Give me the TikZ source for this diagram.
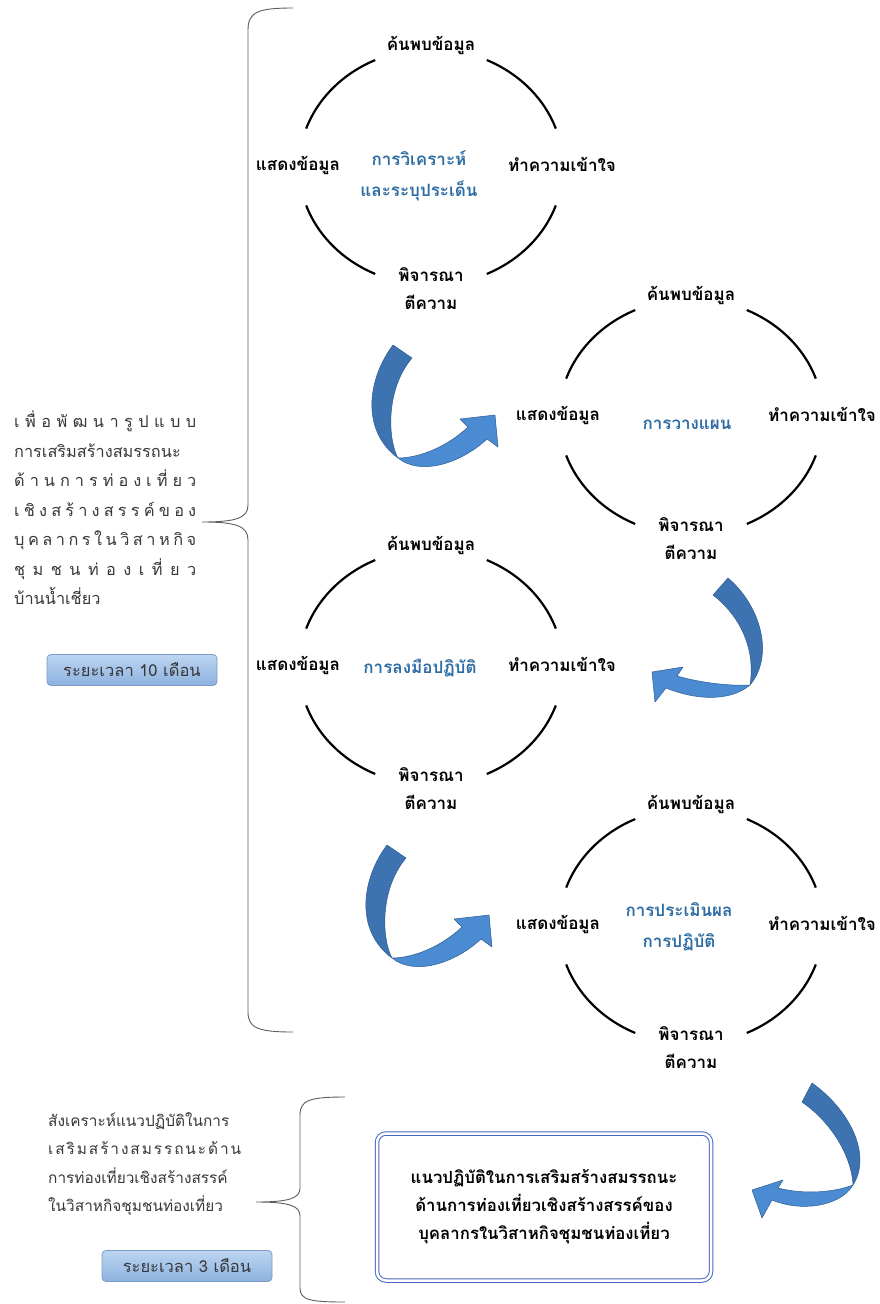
\documentclass[tikz,border=0pt]{standalone}
\usepackage{fontspec}
\setmainfont[Script=Thai]{Loma}
\usetikzlibrary{calc}

\definecolor{hubblue}{HTML}{2E6DA4}
\definecolor{ribbondark}{HTML}{3C73B0}
\definecolor{ribbonlight}{HTML}{4A8BD2}
\definecolor{ribbonedge}{HTML}{2D5C92}
\definecolor{boxblue}{HTML}{4A66C0}
\definecolor{badgetop}{HTML}{BCD5F1}
\definecolor{badgebot}{HTML}{8DB2DF}
\definecolor{badgeedge}{HTML}{7C9CC6}
\definecolor{bracegray}{HTML}{5E5E5E}
\definecolor{textgray}{HTML}{383838}

% one cycle: four arcs, four step labels and the stage name in the middle
\newcommand\thaicycle[4]{%
  \coordinate (#1) at (#2);
  \draw[ringarc] ($(#1)+(199:132 and 118)$) arc[start angle=199,end angle=245,x radius=132,y radius=118];
  \draw[ringarc] ($(#1)+(295:132 and 118)$) arc[start angle=295,end angle=341,x radius=132,y radius=118];
  \draw[ringarc] ($(#1)+(19:132 and 118)$) arc[start angle=19,end angle=65,x radius=132,y radius=118];
  \draw[ringarc] ($(#1)+(115:132 and 118)$) arc[start angle=115,end angle=161,x radius=132,y radius=118];
  \node[steplbl] (#1-top) at ($(#1)+(0,-122)$) {ค้นพบข้อมูล};
  \node[steplbl] (#1-left) at ($(#1)+(-133,-2)$) {แสดงข้อมูล};
  \node[steplbl] (#1-right) at ($(#1)+(131,-3)$) {ทำความเข้าใจ};
  \node[steplbl] (#1-bot) at ($(#1)+(0,122)$) {พิจารณา\\ตีความ};
  \node[hublbl] (#1-hub) at ($(#1)+(#4)$) {#3};
}

\begin{document}
\begin{tikzpicture}[x=1pt,y=-1pt,
  ringarc/.style={line width=2.2pt,black},
  steplbl/.style={font=\fontsize{17}{28}\selectfont\bfseries,align=center,inner sep=0pt},
  hublbl/.style={font=\fontsize{17}{31}\selectfont\bfseries,text=hubblue,align=center,inner sep=0pt},
  bodytext/.style={font=\fontsize{16.3}{29.5}\selectfont,text=textgray,align=left,inner sep=0pt},
  lowertext/.style={font=\fontsize{15.4}{28.5}\selectfont,text=textgray,align=left,inner sep=0pt},
  badge/.style={rounded corners=4pt,top color=badgetop,bottom color=badgebot,draw=badgeedge,
    line width=0.8pt,minimum width=170pt,minimum height=31pt,inner sep=0pt,
    font=\fontsize{16.5}{18}\selectfont,text=textgray},
  bracket/.style={draw=bracegray,line width=0.9pt},
  ribbonback/.style={fill=ribbondark,draw=ribbonedge,line width=0.5pt,line join=round},
  ribbonfront/.style={fill=ribbonlight,draw=ribbonedge,line width=0.5pt,line join=round},
  goalbox/.style={draw=boxblue,double=white,double distance=2.5pt,line width=1pt,
    rounded corners=9pt,minimum width=334pt,minimum height=147pt,align=center,
    font=\fontsize{16.8}{28}\selectfont\bfseries,inner sep=0pt}
]
\fill[white] (0,0) rectangle (879,1304);
\useasboundingbox (0,0) rectangle (879,1304);

% the four stages
\thaicycle{analyse}{431,167}{การวิเคราะห์\\และระบุประเด็น}{-12,9}
\thaicycle{plan}{691,417}{การวางแผน}{-4,8}
\thaicycle{act}{431,667}{การลงมือปฏิบัติ}{-11,1}
\thaicycle{assess}{691,926}{การประเมินผล\\การปฏิบัติ}{-12,1}

% ribbon arrows between the stages
\begin{scope}
  \path[ribbonback] (393,345) .. controls (368,378) and (360,430) .. (398,458)
    .. controls (388,440) and (385,390) .. (412,358) -- cycle;
  \path[ribbonfront] (398,458) .. controls (420,476) and (460,464) .. (487,439)
    -- (498,447) -- (495,415) -- (460,419) -- (468,427)
    .. controls (448,446) and (420,458) .. (398,458) -- cycle;
\end{scope}
\begin{scope}[shift={(-6,500)}]
  \path[ribbonback] (393,345) .. controls (368,378) and (360,430) .. (398,458)
    .. controls (388,440) and (385,390) .. (412,358) -- cycle;
  \path[ribbonfront] (398,458) .. controls (420,476) and (460,464) .. (487,439)
    -- (498,447) -- (495,415) -- (460,419) -- (468,427)
    .. controls (448,446) and (420,458) .. (398,458) -- cycle;
\end{scope}
\path[ribbonback] (728,578) .. controls (760,605) and (775,655) .. (750,685)
  .. controls (755,655) and (745,620) .. (713,595) -- cycle;
\path[ribbonfront] (750,685) .. controls (730,702) and (695,700) .. (666,688)
  -- (655,702) -- (652,672) -- (683,667) -- (677,676)
  .. controls (705,684) and (735,686) .. (750,685) -- cycle;
\path[ribbonback] (812,1083) .. controls (850,1110) and (872,1155) .. (853,1185)
  .. controls (852,1160) and (835,1125) .. (802,1102) -- cycle;
\path[ribbonfront] (853,1185) .. controls (840,1207) and (800,1212) .. (772,1200)
  -- (762,1218) -- (752,1190) -- (783,1180) -- (778,1188)
  .. controls (805,1195) and (835,1192) .. (853,1185) -- cycle;

% large bracket grouping the four stages
\draw[bracket] (293,8) .. controls (258,8) and (248,12) .. (248,30) -- (248,505)
  .. controls (248,518) and (236,522) .. (202,522)
  .. controls (236,522) and (248,526) .. (248,540) -- (248,1012)
  .. controls (248,1028) and (258,1032) .. (293,1032);

% purpose of the development phase
\node[bodytext,anchor=north west] (purpose) at (14,411) {%
  \makebox[182pt][s]{เ\hfill พื่\hfill อ\hfill พั\hfill ฒ\hfill น\hfill า\hfill รู\hfill ป\hfill แ\hfill บ\hfill บ}\\
  การเสริมสร้างสมรรถนะ\\
  \makebox[182pt][s]{ด้\hfill า\hfill น\hfill ก\hfill า\hfill ร\hfill ท่\hfill อ\hfill ง\hfill เ\hfill ที่\hfill ย\hfill ว}\\
  \makebox[182pt][s]{เ\hfill ชิ\hfill ง\hfill ส\hfill ร้\hfill า\hfill ง\hfill ส\hfill ร\hfill ร\hfill ค์\hfill ข\hfill อ\hfill ง}\\
  \makebox[182pt][s]{บุ\hfill ค\hfill ล\hfill า\hfill ก\hfill ร\hfill ใ\hfill น\hfill วิ\hfill ส\hfill า\hfill ห\hfill กิ\hfill จ}\\
  \makebox[182pt][s]{ชุ\hfill ม\hfill ช\hfill น\hfill ท่\hfill อ\hfill ง\hfill เ\hfill ที่\hfill ย\hfill ว}\\
  บ้านน้ำเชี่ยว};
\node[badge] (tenmonths) at (132,670) {ระยะเวลา 10 เดือน};

% synthesis phase
\draw[bracket] (345,1097) .. controls (310,1097) and (300,1100) .. (300,1115) -- (300,1188)
  .. controls (300,1198) and (290,1202) .. (256,1202)
  .. controls (290,1202) and (300,1206) .. (300,1216) -- (300,1288)
  .. controls (300,1300) and (310,1302) .. (345,1302);
\node[lowertext,anchor=north west] (synthesis) at (48,1112) {%
  สังเคราะห์แนวปฏิบัติในการ\\
  \makebox[193pt][s]{เ\hfill ส\hfill ริ\hfill ม\hfill ส\hfill ร้\hfill า\hfill ง\hfill ส\hfill ม\hfill ร\hfill ร\hfill ถ\hfill น\hfill ะ\hfill ด้\hfill า\hfill น}\\
  การท่องเที่ยวเชิงสร้างสรรค์\\
  ในวิสาหกิจชุมชนท่องเที่ยว};
\node[badge] (threemonths) at (187,1266) {ระยะเวลา 3 เดือน};

\node[goalbox] (guideline) at (544,1207) {%
  แนวปฏิบัติในการเสริมสร้างสมรรถนะ\\
  ด้านการท่องเที่ยวเชิงสร้างสรรค์ของ\\
  บุคลากรในวิสาหกิจชุมชนท่องเที่ยว};
\end{tikzpicture}
\end{document}
